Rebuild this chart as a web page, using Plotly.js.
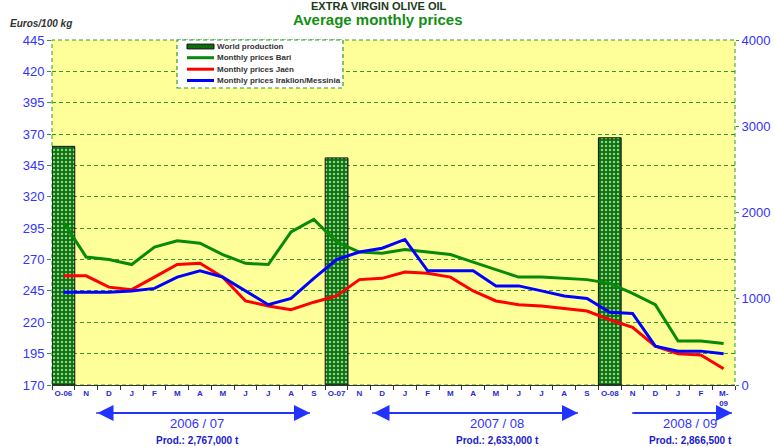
<!DOCTYPE html>
<html>
<head>
<meta charset="utf-8">
<script src="https://cdn.plot.ly/plotly-3.0.1.min.js"></script>
<style>
  body { margin: 0; background: #fff; }
  #chart { width: 775px; height: 447px; }
</style>
</head>
<body>
<div id="chart"></div>
<script>
// month labels (Oct 2006 -> Mar 2009)
var months = ['O-06','N','D','J','F','M','A','M','J','J','A','S',
              'O-07','N','D','J','F','M','A','M','J','J','A','S',
              'O-08','N','D','J','F','M-<br>09'];

// average monthly prices, euros/100 kg
var bari = [300, 272, 270, 266, 280, 285, 283, 274, 267, 266, 292, 302,
            284, 276, 275, 278, 276, 274, 268, 262, 256, 256, 255, 254,
            251, 243, 234, 205, 205, 203];
var jaen = [257, 257, 248, 246, 256, 266, 267, 256, 237, 233, 230, 236,
            241, 254, 255, 260, 259, 256, 245, 237, 234, 233, 231, 229,
            222, 216, 201, 195, 194, 183];
var iraklion = [244, 244, 244, 245, 247, 256, 261, 256, 245, 234, 239, 255,
                270, 276, 279, 286, 261, 261, 261, 249, 249, 245, 241, 239,
                228, 227, 201, 197, 197, 195];

// world production per season (tonnes), drawn at October of each season
var seasons = ['2006 / 07', '2007 / 08', '2008 / 09'];
var prodMonth = [0, 12, 24];
var prodTonnes = [2767000, 2633000, 2866500];

var xIdx = months.map(function (m, i) { return i; });

var gridGreen = '#2f9a2f';
var blueTxt = '#3333ff';
var barGreen = '#0b700b';
var font = 'Arial, Liberation Sans, sans-serif';

// bars on the base axis (right scale), price lines on the overlay so they sit on top
var traces = [
  {
    x: prodMonth,
    y: prodTonnes.map(function (t) { return t / 1000; }),
    type: 'bar',
    width: 1,
    name: 'World production',
    marker: {
      color: barGreen,
      line: { color: '#111', width: 1 },
      pattern: { shape: '.', fgcolor: '#8fd08f', bgcolor: barGreen, size: 4, solidity: 0.3 }
    }
  },
  { x: xIdx, y: bari, type: 'scatter', mode: 'lines', yaxis: 'y2', name: 'Monthly prices Bari',
    line: { color: '#078a07', width: 3 } },
  { x: xIdx, y: jaen, type: 'scatter', mode: 'lines', yaxis: 'y2', name: 'Monthly prices Jaén',
    line: { color: '#ff0000', width: 3 } },
  { x: xIdx, y: iraklion, type: 'scatter', mode: 'lines', yaxis: 'y2', name: 'Monthly prices Iraklion/Messinia',
    line: { color: '#0000ff', width: 3 } }
];

var ypx = function (p) { return (385 - p) / 345; };
var xpx = function (p) { return (p - 52) / 683; };

// dashed frame + hand-made legend box (rows as tight as the original)
var shapes = [
  { type: 'rect', xref: 'paper', yref: 'paper', x0: 0, x1: 1, y0: 0, y1: 1,
    line: { color: gridGreen, width: 1, dash: '4px,3px' }, layer: 'below' },
  { type: 'rect', xref: 'paper', yref: 'paper', x0: xpx(177), x1: xpx(343), y0: ypx(88), y1: 1.0,
    fillcolor: '#ffffff', line: { color: gridGreen, width: 1.2, dash: '4px,3px' }, layer: 'above' }
];
var annotations = [];
var legRows = [46.5, 57.7, 69.2, 80.5];
traces.forEach(function (tr, i) {
  var yy = ypx(legRows[i]);
  if (i === 0) {
    shapes.push({ type: 'rect', xref: 'paper', yref: 'paper', x0: xpx(187), x1: xpx(214),
      y0: yy - 0.007, y1: yy + 0.007, fillcolor: barGreen, line: { color: '#111', width: 1 }, layer: 'above' });
  } else {
    shapes.push({ type: 'line', xref: 'paper', yref: 'paper', x0: xpx(187), x1: xpx(214),
      y0: yy, y1: yy, line: { color: tr.line.color, width: 3 }, layer: 'above' });
  }
  annotations.push({ xref: 'paper', yref: 'paper', x: xpx(215), y: yy, xanchor: 'left', yanchor: 'middle',
    text: '<b>' + tr.name + '</b>', showarrow: false,
    font: { family: font, size: 8, color: '#333' } });
});

// titles
annotations.push({ xref: 'paper', yref: 'paper', x: xpx(379), y: ypx(6.5), xanchor: 'center', yanchor: 'middle', showarrow: false,
  text: '<b>EXTRA VIRGIN OLIVE OIL</b>', font: { family: font, size: 11, color: '#1a3a1a' } });
annotations.push({ xref: 'paper', yref: 'paper', x: xpx(378), y: ypx(20), xanchor: 'center', yanchor: 'middle', showarrow: false,
  text: '<b>Average monthly prices</b>', font: { family: font, size: 15, color: '#128f12' } });
annotations.push({ xref: 'paper', yref: 'paper', x: xpx(8), y: ypx(24), xanchor: 'left', yanchor: 'middle', showarrow: false,
  text: '<b><i>Euros/100 kg</i></b>', font: { family: font, size: 10, color: '#333' } });

// season arrows and production text
var arrowSpans = [[96, 310, 'end+start'], [372, 578, 'end+start'], [632, 732, 'end']];
var seasonCx = [197, 497, 690];
seasons.forEach(function (s, i) {
  var sp = arrowSpans[i];
  shapes.push({ type: 'line', xref: 'paper', yref: 'paper', x0: xpx(sp[0]), x1: xpx(sp[1]),
    y0: ypx(413), y1: ypx(413), line: { color: '#3344ff', width: 1.5 } });
  annotations.push({ xref: 'paper', yref: 'paper', axref: 'paper', ayref: 'paper',
    x: xpx(sp[1]), y: ypx(413), ax: xpx(sp[0]), ay: ypx(413), text: '',
    showarrow: true, arrowhead: 2, arrowside: sp[2], arrowsize: 1.6, arrowwidth: 2, arrowcolor: '#2233ff',
    standoff: 0, startstandoff: 0 });
  annotations.push({ xref: 'paper', yref: 'paper', x: xpx(seasonCx[i]), y: ypx(423.5),
    xanchor: 'center', yanchor: 'middle', showarrow: false,
    text: s, font: { family: font, size: 13, color: blueTxt } });
  annotations.push({ xref: 'paper', yref: 'paper', x: xpx(seasonCx[i]), y: ypx(440.5),
    xanchor: 'center', yanchor: 'middle', showarrow: false,
    text: '<b>Prod.: ' + prodTonnes[i].toLocaleString('en-US') + ' t</b>',
    font: { family: font, size: 10, color: '#1a1acc' } });
});

var layout = {
  width: 775,
  height: 447,
  margin: { l: 52, r: 40, t: 40, b: 62 },
  paper_bgcolor: '#ffffff',
  plot_bgcolor: '#ffff99',
  showlegend: false,
  bargap: 0,
  xaxis: {
    range: [-0.5, 29.5],
    tickmode: 'array',
    tickvals: xIdx,
    ticktext: months.map(function (m) { return '<b>' + m + '</b>'; }),
    ticks: '',
    minor: { tick0: 0.5, dtick: 1, ticks: 'outside', ticklen: 4, tickcolor: '#333', showgrid: false },
    showgrid: false,
    zeroline: false,
    showline: true,
    linecolor: '#333',
    linewidth: 1,
    tickfont: { family: font, size: 8, color: '#2a2ad0' }
  },
  yaxis: {
    side: 'right',
    range: [0, 4000],
    dtick: 1000,
    ticks: 'outside',
    ticklen: 3,
    tickcolor: gridGreen,
    showgrid: false,
    zeroline: false,
    tickfont: { family: font, size: 13, color: blueTxt }
  },
  yaxis2: {
    overlaying: 'y',
    side: 'left',
    range: [170, 445],
    tick0: 170,
    dtick: 25,
    ticks: 'outside',
    ticklen: 4,
    tickcolor: gridGreen,
    showgrid: true,
    gridcolor: gridGreen,
    griddash: '4px,3px',
    gridwidth: 1,
    zeroline: false,
    tickfont: { family: font, size: 13, color: blueTxt }
  },
  shapes: shapes,
  annotations: annotations
};

Plotly.newPlot('chart', traces, layout, { displayModeBar: false, staticPlot: true });
</script>
</body>
</html>
